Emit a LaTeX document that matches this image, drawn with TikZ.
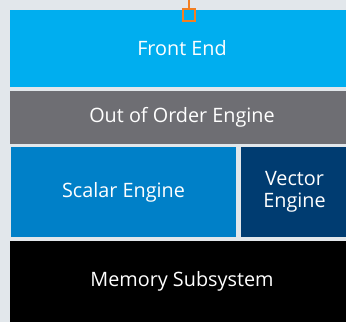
\documentclass[tikz,border=0pt]{standalone}
\usepackage{fontspec}
\setmainfont{Open Sans}
\definecolor{bggray}{HTML}{E2E7EB}
\definecolor{feblue}{HTML}{00AEEF}
\definecolor{ooogray}{HTML}{6E6E73}
\definecolor{scblue}{HTML}{0080C8}
\definecolor{vecblue}{HTML}{003C71}
\definecolor{portorange}{HTML}{F37F21}
\tikzset{
  blk/.style={rectangle,anchor=north west,inner sep=0pt,outer sep=0pt,
    text=white,font=\fontsize{19.8}{21.5}\selectfont,align=center},
}
\begin{document}
\begin{tikzpicture}[x=1pt,y=-1pt]
    \useasboundingbox (0,0) rectangle (346,322);
    \clip (0,0) rectangle (346,322);
    \fill[bggray] (0,0) rectangle (346,322);
    \node[blk,fill=feblue,minimum width=344pt,minimum height=77pt] (fe) at (10,10) {Front End};
    \node[blk,fill=ooogray,minimum width=344pt,minimum height=53pt] (ooo) at (10,91) {Out of Order Engine};
    \node[blk,fill=scblue,minimum width=225pt,minimum height=90pt] (sc) at (11,147) {Scalar Engine};
    \node[blk,fill=vecblue,minimum width=107pt,minimum height=90pt] (vec) at (241,147) {\raisebox{-2pt}{Vector}\\\raisebox{-2pt}{Engine}};
    \node[blk,fill=black,minimum width=344pt,minimum height=81pt] (mem) at (10,241) {Memory Subsystem};
    % port on top of the front end
    \coordinate (in) at (189,0);
    \node[rectangle,draw=portorange,line width=2.6pt,minimum size=12.3pt,inner sep=0pt] (port) at (189,15) {};
    \draw[portorange,line width=2.6pt] (in) -- (port.north);
\end{tikzpicture}
\end{document}
